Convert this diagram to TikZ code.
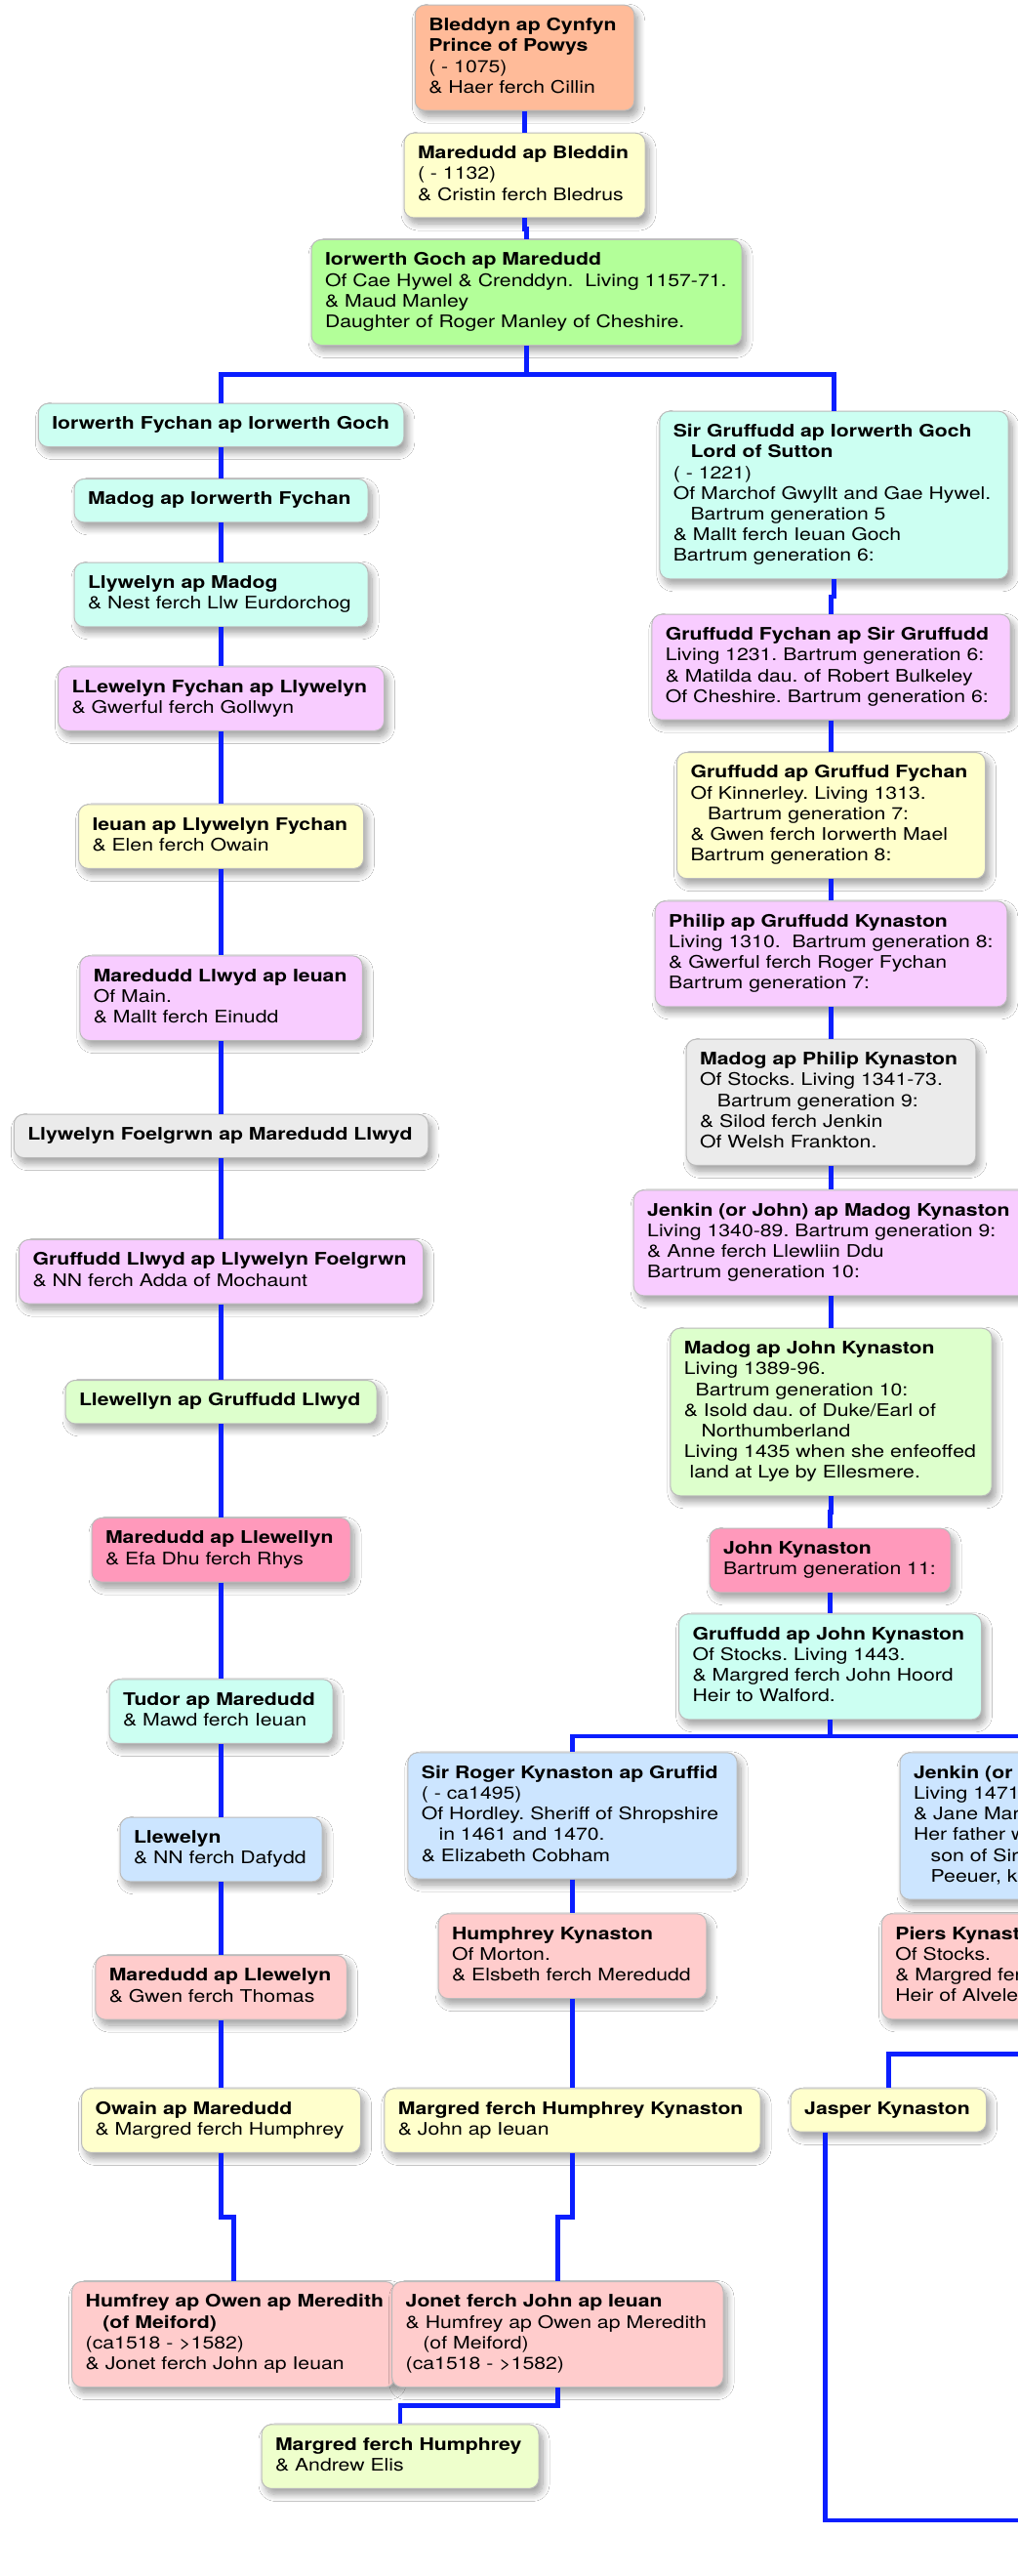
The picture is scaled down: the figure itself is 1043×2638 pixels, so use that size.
\documentclass[tikz,border=0pt]{standalone}
\usepackage{fontspec}
\setmainfont{TeX Gyre Heros}[FakeStretch=1.2]
\usetikzlibrary{calc,shadows.blur}
\frenchspacing
\definecolor{cSalmon}{HTML}{FFBB99}
\definecolor{cYellow}{HTML}{FFFFCC}
\definecolor{cGreen}{HTML}{B3FF99}
\definecolor{cCyan}{HTML}{CCFFF2}
\definecolor{cPink}{HTML}{F8CCFF}
\definecolor{cGrey}{HTML}{EBEBEB}
\definecolor{cLtGreen}{HTML}{DDFFCC}
\definecolor{cHotPink}{HTML}{FF99BB}
\definecolor{cBlue}{HTML}{CCE5FF}
\definecolor{cRose}{HTML}{FFCCCC}
\definecolor{cLime}{HTML}{EEFFCC}
\definecolor{cBorder}{HTML}{BBBBBB}
\definecolor{cLine}{HTML}{0A1EFF}
\tikzset{
  pbox/.style={draw=cBorder, line width=1pt, rounded corners=10pt, anchor=north west,
    inner xsep=14pt, inner ysep=11.6pt, font=\fontsize{17.7}{21.2}\selectfont,
    blur shadow={shadow xshift=4pt, shadow yshift=-6pt, shadow blur radius=7pt,
      shadow blur steps=12, shadow opacity=38}},
  conn/.style={draw=cLine, line width=4.6pt},
}
\newcommand{\fambox}[6]{\node[pbox, fill=#5] (#1) at (#2,#3)
  {\makebox[\dimexpr #4pt-28pt\relax][l]{\begin{tabular}{@{}l@{}}#6\end{tabular}}};}
\newcommand{\famlink}[2]{\draw[conn] (#1.south) |- ($(#1.south)!0.5!(#2.north)$) -| (#2.north);}
\newcommand{\indA}{\hspace*{17.7pt}}
\begin{document}
\begin{tikzpicture}[x=1pt, y=-1pt]
\useasboundingbox (0,0) rectangle (1043,2638);
\clip (0,0) rectangle (1043,2638);
\fill[white] (0,0) rectangle (1043,2638);

% top and left column
\fambox{bleddyn}{424.75}{4.7}{224.5}{cSalmon}{\textbf{Bleddyn ap Cynfyn}\\\textbf{Prince of Powys}\\( - 1075)\\\& Haer ferch Cillin}
\fambox{maredudd1}{413.5}{135.7}{247}{cYellow}{\textbf{Maredudd ap Bleddin}\\( - 1132)\\\& Cristin ferch Bledrus}
\fambox{iorwerthgoch}{318.5}{245}{441}{cGreen}{\textbf{Iorwerth Goch ap Maredudd}\\Of Cae Hywel \& Crenddyn.\ \ Living 1157-71.\\\& Maud Manley\\Daughter of Roger Manley of Cheshire.}
\fambox{iorwerthfychan}{38.75}{412.7}{374.5}{cCyan}{\textbf{Iorwerth Fychan ap Iorwerth Goch}}
\fambox{madog1}{75.5}{490}{301}{cCyan}{\textbf{Madog ap Iorwerth Fychan}}
\fambox{llywelyn1}{75.5}{575.7}{301}{cCyan}{\textbf{Llywelyn ap Madog}\\\& Nest ferch Llw Eurdorchog}
\fambox{llewelynfychan}{59}{682.3}{334}{cPink}{\textbf{LLewelyn Fychan ap Llywelyn}\\\& Gwerful ferch Gollwyn}
\fambox{ieuan}{80}{823.3}{292}{cYellow}{\textbf{Ieuan ap Llywelyn Fychan}\\\& Elen ferch Owain}
\fambox{maredudllwyd}{81.25}{978.3}{289.5}{cPink}{\textbf{Maredudd Llwyd ap Ieuan}\\Of Main.\\\& Mallt ferch Einudd}
\fambox{foelgrwn}{13.75}{1140.7}{424.5}{cGrey}{\textbf{Llywelyn Foelgrwn ap Maredudd Llwyd}}
\fambox{gruffuddllwyd}{19}{1269}{414}{cPink}{\textbf{Gruffudd Llwyd ap Llywelyn Foelgrwn}\\\& NN ferch Adda of Mochaunt}
\fambox{llewellyn1}{66.5}{1413}{319}{cLtGreen}{\textbf{Llewellyn ap Gruffudd Llwyd}}
\fambox{maredudd2}{93.5}{1554}{265}{cHotPink}{\textbf{Maredudd ap Llewellyn}\\\& Efa Dhu ferch Rhys}
\fambox{tudor}{111.5}{1719.3}{229}{cCyan}{\textbf{Tudor ap Maredudd}\\\& Mawd ferch Ieuan}
\fambox{llewelyn2}{122.5}{1860.7}{207}{cBlue}{\textbf{Llewelyn}\\\& NN ferch Dafydd}
\fambox{maredudd3}{97.25}{2002}{257.5}{cRose}{\textbf{Maredudd ap Llewelyn}\\\& Gwen ferch Thomas}
\fambox{owain}{83}{2138.3}{286}{cYellow}{\textbf{Owain ap Maredudd}\\\& Margred ferch Humphrey}
\fambox{humfrey}{73.2}{2336}{331.3}{cRose}{\textbf{Humfrey ap Owen ap Meredith}\\\indA\textbf{(of Meiford)}\\(ca1518 - >1582)\\\& Jonet ferch John ap Ieuan}
\fambox{jonet}{401.2}{2336}{339.3}{cRose}{\textbf{Jonet ferch John ap Ieuan}\\\& Humfrey ap Owen ap Meredith\\\indA(of Meiford)\\(ca1518 - >1582)}
\fambox{margredae}{267.5}{2482.3}{284}{cLime}{\textbf{Margred ferch Humphrey}\\\& Andrew Elis}

% right column
\fambox{sirgruffudd}{675.3}{420.7}{357.3}{cCyan}{\textbf{Sir Gruffudd ap Iorwerth Goch}\\\indA\textbf{Lord of Sutton}\\( - 1221)\\Of Marchof Gwyllt and Gae Hywel.\\\indA Bartrum generation 5\\\& Mallt ferch Ieuan Goch\\Bartrum generation 6:}
\fambox{gruffuddfychan}{667.35}{628.7}{367.3}{cPink}{\textbf{Gruffudd Fychan ap Sir Gruffudd}\\Living 1231. Bartrum generation 6:\\\& Matilda dau. of Robert Bulkeley\\Of Cheshire. Bartrum generation 6:}
\fambox{gruffuddgf}{693}{770}{316}{cYellow}{\textbf{Gruffudd ap Gruffud Fychan}\\Of Kinnerley. Living 1313.\\\indA Bartrum generation 7:\\\& Gwen ferch Iorwerth Mael\\Bartrum generation 8:}
\fambox{philip}{670.7}{922.3}{360.6}{cPink}{\textbf{Philip ap Gruffudd Kynaston}\\Living 1310.\ \ Bartrum generation 8:\\\& Gwerful ferch Roger Fychan\\Bartrum generation 7:}
\fambox{madogphilip}{702.65}{1063.7}{296.7}{cGrey}{\textbf{Madog ap Philip Kynaston}\\Of Stocks. Living 1341-73.\\\indA Bartrum generation 9:\\\& Silod ferch Jenkin\\Of Welsh Frankton.}
\fambox{jenkinmadog}{648.7}{1218.3}{404.6}{cPink}{\textbf{Jenkin (or John) ap Madog Kynaston}\\Living 1340-89. Bartrum generation 9:\\\& Anne ferch Llewliin Ddu\\Bartrum generation 10:}
\fambox{madogjohn}{686.3}{1359.7}{329.4}{cLtGreen}{\textbf{Madog ap John Kynaston}\\Living 1389-96.\\\hspace*{11.8pt}Bartrum generation 10:\\\& Isold dau. of Duke/Earl of\\\indA Northumberland\\Living 1435 when she enfeoffed\\\hspace*{5.9pt}land at Lye by Ellesmere.}
\fambox{johnk}{726.5}{1564.7}{247}{cHotPink}{\textbf{John Kynaston}\\Bartrum generation 11:}
\fambox{gruffuddjohn}{695}{1652.3}{310}{cCyan}{\textbf{Gruffudd ap John Kynaston}\\Of Stocks. Living 1443.\\\& Margred ferch John Hoord\\Heir to Walford.}
\fambox{sirroger}{417.35}{1794.3}{337.3}{cBlue}{\textbf{Sir Roger Kynaston ap Gruffid}\\( - ca1495)\\Of Hordley. Sheriff of Shropshire\\\indA in 1461 and 1470.\\\& Elizabeth Cobham}
\fambox{jenkinjohn}{921.5}{1794.3}{340}{cBlue}{\textbf{Jenkin (or John) Kynaston}\\Living 1471 and 1490.\\\& Jane Mareschal\\Her father was\\\indA son of Sir John\\\indA Peeuer, knight}
\fambox{humphreyk}{448.65}{1959.3}{274.7}{cRose}{\textbf{Humphrey Kynaston}\\Of Morton.\\\& Elsbeth ferch Meredudd}
\fambox{piers}{902.9}{1959.3}{340}{cRose}{\textbf{Piers Kynaston}\\Of Stocks.\\\& Margred ferch Thomas\\Heir of Alveley.}
\fambox{margredhk}{393.4}{2138.3}{385.2}{cYellow}{\textbf{Margred ferch Humphrey Kynaston}\\\& John ap Ieuan}
\fambox{jasper}{809.7}{2138.3}{200.3}{cYellow}{\textbf{Jasper Kynaston}}

% connectors
\famlink{bleddyn}{maredudd1}
\famlink{maredudd1}{iorwerthgoch}
\coordinate (bus1) at ($(iorwerthgoch.south)!0.5!(iorwerthfychan.north)$);
\draw[conn] (iorwerthgoch.south) -- (iorwerthgoch.south |- bus1) -| (iorwerthfychan.north);
\draw[conn] (iorwerthgoch.south |- bus1) -| (sirgruffudd.north);
\famlink{iorwerthfychan}{madog1}
\famlink{madog1}{llywelyn1}
\famlink{llywelyn1}{llewelynfychan}
\famlink{llewelynfychan}{ieuan}
\famlink{ieuan}{maredudllwyd}
\famlink{maredudllwyd}{foelgrwn}
\famlink{foelgrwn}{gruffuddllwyd}
\famlink{gruffuddllwyd}{llewellyn1}
\famlink{llewellyn1}{maredudd2}
\famlink{maredudd2}{tudor}
\famlink{tudor}{llewelyn2}
\famlink{llewelyn2}{maredudd3}
\famlink{maredudd3}{owain}
\famlink{owain}{humfrey}
\famlink{sirgruffudd}{gruffuddfychan}
\famlink{gruffuddfychan}{gruffuddgf}
\famlink{gruffuddgf}{philip}
\famlink{philip}{madogphilip}
\famlink{madogphilip}{jenkinmadog}
\famlink{jenkinmadog}{madogjohn}
\famlink{madogjohn}{johnk}
\famlink{johnk}{gruffuddjohn}
\coordinate (bus2) at ($(gruffuddjohn.south)!0.5!(sirroger.north)$);
\draw[conn] (gruffuddjohn.south) -- (gruffuddjohn.south |- bus2) -| (sirroger.north);
\draw[conn] (gruffuddjohn.south |- bus2) -| (jenkinjohn.north);
\famlink{sirroger}{humphreyk}
\famlink{humphreyk}{margredhk}
\famlink{margredhk}{jonet}
\famlink{jonet}{margredae}
\famlink{piers}{jasper}
\coordinate (jasperout) at ([xshift=36pt]jasper.south west);
\coordinate (jasperkid) at (1200,2978);
\draw[conn] (jasperout) |- ($(jasperout)!0.5!(jasperkid)$) -| (jasperkid);
\end{tikzpicture}
\end{document}
